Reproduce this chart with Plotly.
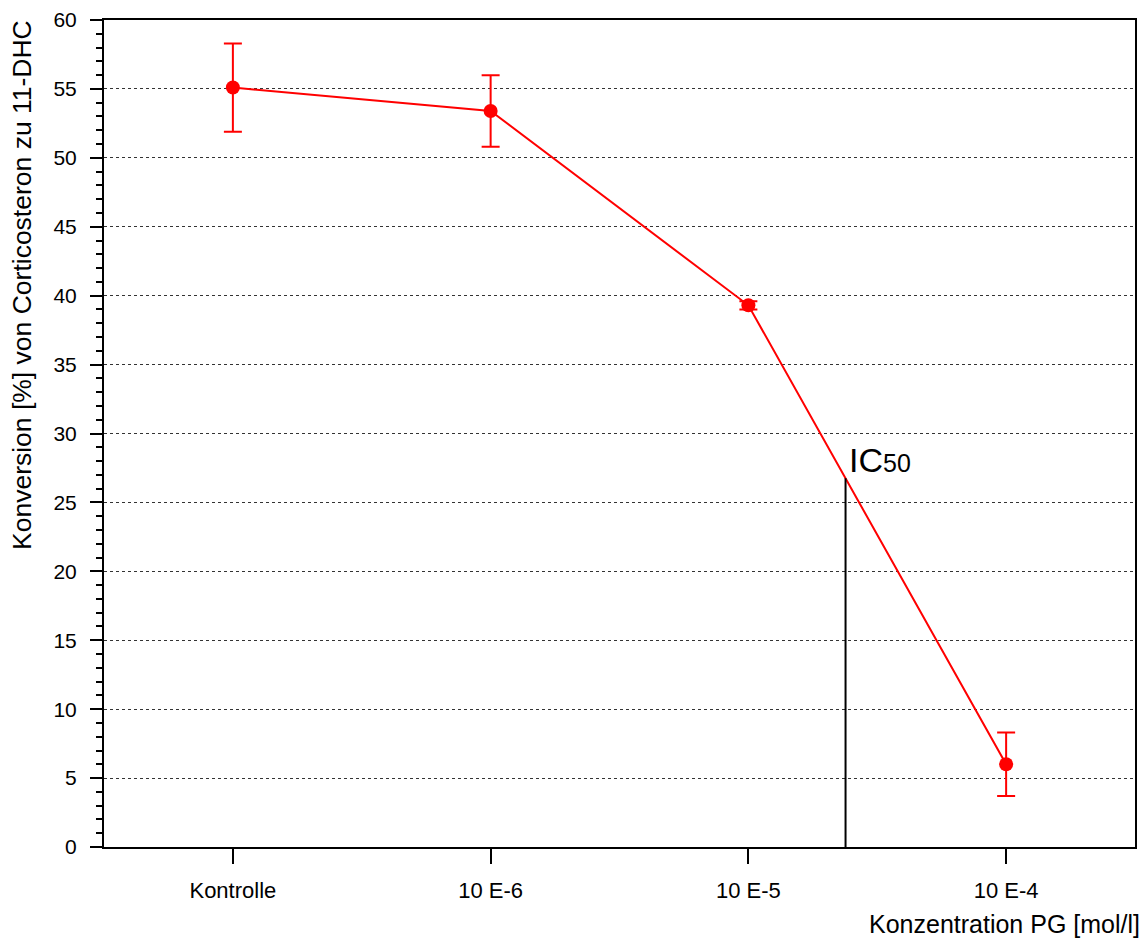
import numpy as np
import plotly.graph_objects as go

# ---- data ----
categories = ["Kontrolle", "10 E-6", "10 E-5", "10 E-4"]
conversion = [55.1, 53.4, 39.3, 6.0]
sd = [3.2, 2.6, 0.3, 2.3]
ic50_position = 2.377          # position along the category axis
y_ticks = [0, 5, 10, 15, 20, 25, 30, 35, 40, 45, 50, 55, 60]

xpos = list(range(len(categories)))
ic50_value = float(np.interp(ic50_position, xpos, conversion))

FONT = "Liberation Sans, Arial, sans-serif"
RED = "#ff0000"

fig = go.Figure()

fig.add_trace(go.Scatter(
    x=xpos, y=conversion,
    mode="lines+markers",
    line=dict(color=RED, width=2),
    marker=dict(color=RED, size=14, symbol="circle"),
    error_y=dict(type="data", array=sd, visible=True, color=RED,
                 thickness=2, width=9),
    showlegend=False,
))

# IC50 vertical line
fig.add_shape(type="line", x0=ic50_position, x1=ic50_position,
              y0=0, y1=ic50_value, xref="x", yref="y",
              line=dict(color="black", width=2))

fig.add_annotation(
    x=ic50_position, y=ic50_value, xref="x", yref="y",
    xanchor="left", yanchor="bottom", xshift=1, yshift=-3,
    text="IC<span style='font-size:25px'>50</span>",
    showarrow=False, font=dict(family=FONT, size=34, color="black"),
)

# axis titles as annotations
fig.add_annotation(
    x=1, y=0, xref="paper", yref="paper", xanchor="right", yanchor="top",
    xshift=7, yshift=-61,
    text="Konzentration PG [mol/l]", showarrow=False,
    font=dict(family=FONT, size=25, color="black"),
)
fig.add_annotation(
    x=0, y=1, xref="paper", yref="paper", xanchor="center", yanchor="top",
    xshift=-82, yshift=2, textangle=-90,
    text="Konversion [%] von Corticosteron zu 11-DHC", showarrow=False,
    font=dict(family=FONT, size=26.5, color="black"),
)

fig.update_xaxes(
    range=[-0.5, len(categories) - 0.5],
    tickvals=xpos, ticktext=categories,
    ticks="outside", ticklen=15, tickwidth=2, tickcolor="black",
    showline=True, linecolor="black", linewidth=2, mirror=True,
    showgrid=False, zeroline=False,
    tickfont=dict(family=FONT, size=22, color="black"),
    ticklabelstandoff=8,
)
fig.update_yaxes(
    range=[0, 60],
    tickvals=y_ticks,
    ticks="outside", ticklen=12, tickwidth=2, tickcolor="black",
    minor=dict(dtick=1, ticks="outside", ticklen=6, tickwidth=2,
               tickcolor="black", showgrid=False),
    showline=True, linecolor="black", linewidth=2, mirror=True,
    showgrid=True, gridcolor="#333333", gridwidth=1, griddash="dot",
    zeroline=False,
    tickfont=dict(family=FONT, size=21, color="black"),
    ticklabelstandoff=9,
)

fig.update_layout(
    width=1144, height=942,
    margin=dict(l=104, r=7, t=20, b=95),
    paper_bgcolor="white", plot_bgcolor="white",
    font=dict(family=FONT, color="black"),
)

fig.write_html("out.html")
